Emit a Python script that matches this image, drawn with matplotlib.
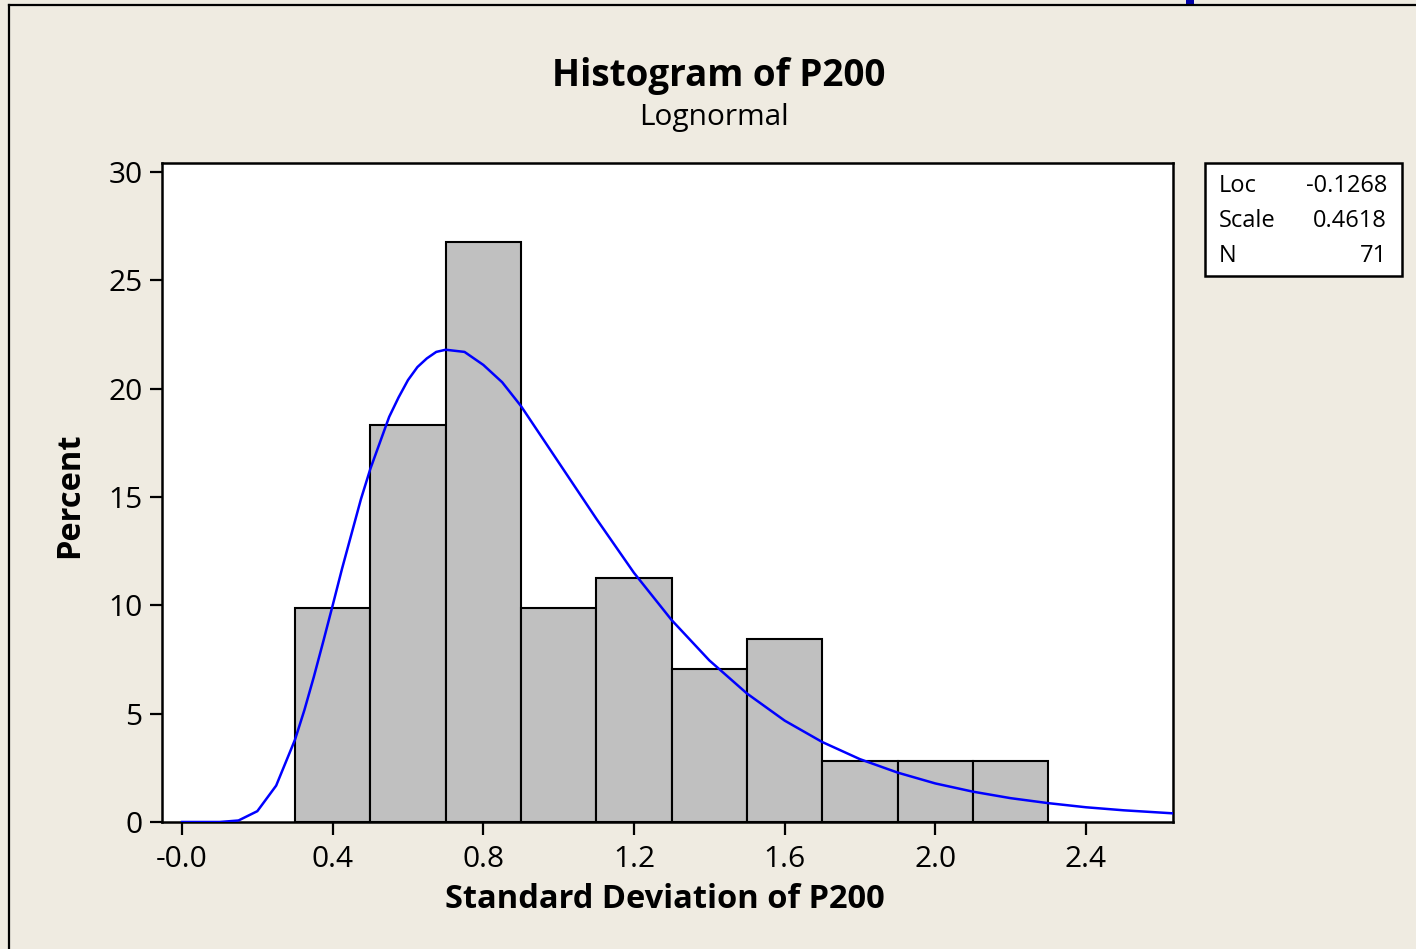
import matplotlib
matplotlib.use("Agg")
import matplotlib.pyplot as plt
from matplotlib.patches import Rectangle
from matplotlib.lines import Line2D

plt.rcParams['font.family'] = ['Open Sans', 'DejaVu Sans']

# ---- data ----
bin_left = [0.3, 0.5, 0.7, 0.9, 1.1, 1.3, 1.5, 1.7, 1.9, 2.1]
bin_width = 0.2
percent = [9.86, 18.31, 26.76, 9.86, 11.27, 7.04, 8.45, 2.82, 2.82, 2.82]

curve_x = [0.0, 0.1, 0.15, 0.2, 0.25, 0.3, 0.325, 0.35, 0.375, 0.4, 0.425, 0.45,
           0.475, 0.5, 0.525, 0.55, 0.575, 0.6, 0.625, 0.65, 0.675, 0.7, 0.75,
           0.8, 0.85, 0.9, 0.95, 1.0, 1.05, 1.1, 1.2, 1.3, 1.4, 1.5,
           1.6, 1.7, 1.8, 1.9, 2.0, 2.1, 2.2, 2.3, 2.4, 2.5, 2.64]
curve_y = [0.0, 0.0, 0.07, 0.50, 1.68, 3.80, 5.17, 6.70, 8.33, 10.0, 11.7, 13.3,
           14.9, 16.3, 17.5, 18.7, 19.6, 20.4, 21.0, 21.4, 21.7, 21.8, 21.7,
           21.1, 20.3, 19.2, 17.9, 16.6, 15.3, 14.0, 11.5, 9.32, 7.46, 5.93,
           4.68, 3.69, 2.90, 2.28, 1.78, 1.40, 1.10, 0.87, 0.68, 0.54, 0.39]

xticks = [0.0, 0.4, 0.8, 1.2, 1.6, 2.0, 2.4]
xtick_labels = ["-0.0", "0.4", "0.8", "1.2", "1.6", "2.0", "2.4"]
yticks = [0, 5, 10, 15, 20, 25, 30]

stats_names = ["Loc", "Scale", "N"]
stats_values = ["-0.1268", "0.4618", "71"]

title = "Histogram of P200"
subtitle = "Lognormal"
xlabel = "Standard Deviation of P200"
ylabel = "Percent"

# ---- figure ----
W, H = 1416, 949
bg = '#EFEBE1'
fig = plt.figure(figsize=(W / 100, H / 100), dpi=100, facecolor=bg)

def fx(px):
    return px / W

def fy(py):
    return 1 - py / H

ax = fig.add_axes([fx(162), fy(822), fx(1173) - fx(162), fy(163) - fy(822)])
ax.set_facecolor('white')

ax.bar(bin_left, percent, width=bin_width, align='edge', color='#C0C0C0',
       edgecolor='black', linewidth=1.5, zorder=2)
ax.plot(curve_x, curve_y, color='#0000FF', linewidth=1.8, zorder=3,
        solid_joinstyle='round')

ax.set_xlim(-0.0531, 2.631)
ax.set_ylim(0, 30.42)
ax.set_xticks(xticks)
ax.set_xticklabels(xtick_labels)
ax.set_yticks(yticks)
ax.tick_params(direction='out', length=9, width=1.6, labelsize=21.5, pad=5,
               colors='black')
ax.tick_params(axis='x', pad=7.5)
for s in ax.spines.values():
    s.set_linewidth(1.8)
    s.set_color('black')

# titles and axis labels
fig.text(fx(719), fy(76), title, ha='center', va='center', fontsize=26.5,
         fontweight='bold')
fig.text(fx(714), fy(117), subtitle, ha='center', va='center', fontsize=21.5)
fig.text(fx(665), fy(900), xlabel, ha='center', va='center', fontsize=23.5,
         fontweight='bold')
fig.text(fx(70), fy(495), ylabel, ha='center', va='center', fontsize=23.5,
         fontweight='bold', rotation=90)

# stats box
fig.patches.append(Rectangle((fx(1205), fy(276)), fx(1402) - fx(1205),
                             fy(163) - fy(276), transform=fig.transFigure,
                             facecolor='white', edgecolor='black',
                             linewidth=1.8))
for i, (n, v) in enumerate(zip(stats_names, stats_values)):
    yy = fy(186 + 35 * i)
    fig.text(fx(1219), yy, n, ha='left', va='center', fontsize=17)
    fig.text(fx(1387), yy, v, ha='right', va='center', fontsize=17)

# outer frame lines
fig.lines.append(Line2D([fx(9), fx(9)], [fy(5), 0], transform=fig.transFigure,
                        color='black', linewidth=1.6))
fig.lines.append(Line2D([fx(9), 1], [fy(5), fy(5)], transform=fig.transFigure,
                        color='black', linewidth=1.6))
fig.patches.append(Rectangle((fx(1186), fy(6)), fx(1194) - fx(1186), fy(0) - fy(6),
                             transform=fig.transFigure, facecolor='#0000A8',
                             edgecolor='none'))

fig.savefig('out.png', dpi=100, facecolor=bg)
